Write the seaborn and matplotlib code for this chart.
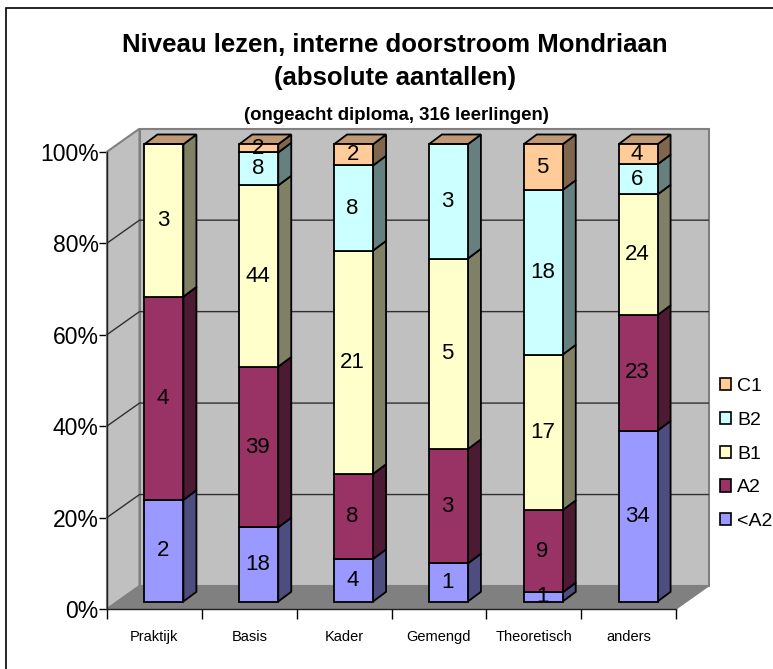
#Niveau lezen, stacked 100% bars with the old 3D look
import numpy as np
import pandas as pd
import seaborn as sns
import matplotlib.pyplot as plt
from matplotlib.patches import Patch, Polygon, Rectangle

#Data
categories = ["Praktijk", "Basis", "Kader", "Gemengd", "Theoretisch", "anders"]
levels = ["<A2", "A2", "B1", "B2", "C1"]
below_a2 = [2, 18, 4, 1, 1, 34]
a2 = [4, 39, 8, 3, 9, 23]
b1 = [3, 44, 21, 5, 17, 24]
b2 = [0, 8, 8, 3, 18, 6]
c1 = [0, 2, 2, 0, 5, 4]
y_ticks = [0, 20, 40, 60, 80, 100]

#Colours front / side / top
front = ["#9999FF", "#993366", "#FFFFCC", "#CCFFFF", "#FFCC99"]
side = ["#4D4D80", "#4D1A33", "#808066", "#668080", "#80664D"]
top_colour = "#BF9973"

df = pd.DataFrame([below_a2, a2, b1, b2, c1], index=levels, columns=categories)
pct = df / df.sum() * 100

sns.set_style("white")
plt.rcParams["font.family"] = ["Liberation Sans", "DejaVu Sans"]
plt.rcParams["text.color"] = "black"
plt.rcParams["xtick.color"] = "black"
plt.rcParams["ytick.color"] = "black"

fig = plt.figure(figsize=(7.73, 6.69), dpi=100)
W, H = 773, 669
#Axes = front plane of the floor, in pixels
x0, x1, y0, y1 = 107, 676, 609, 151.7
ax = fig.add_axes([x0 / W, (H - y0) / H, (x1 - x0) / W, (y0 - y1) / H])

#Depth of the box, in data units
cat_px = (x1 - x0) / len(categories)
pct_px = (y0 - y1) / 100
depth_x = 32.5 / cat_px
depth_y = 23 / pct_px

#Bar position inside the depth of the box
bar_in_x = 9.5 / cat_px
bar_in_y = 7.5 / pct_px
bar_dx = 13 / cat_px
bar_dy = 9.7 / pct_px

#Outer chart border, only top and left fall inside the picture
fig.add_artist(Rectangle((6 / W, -0.1), 1, 1.1 - 8 / H, transform=fig.transFigure,
                         facecolor="none", edgecolor="black", lw=1.2))

#Walls and floor
xl, xr = -0.5, 5.5
ax.add_patch(Polygon([(xl, 0), (xl + depth_x, depth_y), (xl + depth_x, 100 + depth_y), (xl, 100)],
                     facecolor="#C0C0C0", edgecolor="#808080", lw=1.5, clip_on=False, zorder=1))
ax.add_patch(Polygon([(xl + depth_x, depth_y), (xr + depth_x, depth_y), (xr + depth_x, 100 + depth_y),
                      (xl + depth_x, 100 + depth_y)],
                     facecolor="#C0C0C0", edgecolor="#808080", lw=1.5, clip_on=False, zorder=1))
ax.add_patch(Polygon([(xl, 0), (xr, 0), (xr + depth_x, depth_y), (xl + depth_x, depth_y)],
                     facecolor="#808080", edgecolor="#808080", lw=1, clip_on=False, zorder=1))

#Gridlines over wall
for t in y_ticks[1:-1]:
    ax.plot([xl, xl + depth_x, xr + depth_x], [t, t + depth_y, t + depth_y],
            color="#303030", lw=1, clip_on=False, zorder=2)

#Stacked bars through seaborn, one call per level
bottom = np.zeros(len(categories))
for i, level in enumerate(levels):
    sns.barplot(x=categories, y=pct.loc[level].values, bottom=bottom, color=front[i], saturation=1,
                width=39 / cat_px, edgecolor="black", linewidth=1.3, ax=ax, zorder=5, clip_on=False)
    bottom = bottom + pct.loc[level].values

#Move bars into the box, add side and top faces and the counts
for i, level in enumerate(levels):
    for j, bar in enumerate(ax.containers[i]):
        bar.set_x(bar.get_x() + bar_in_x)
        bar.set_y(bar.get_y() + bar_in_y)
        bx, by, bw, bh = bar.get_x(), bar.get_y(), bar.get_width(), bar.get_height()
        if bh > 0:
            ax.add_patch(Polygon([(bx + bw, by), (bx + bw + bar_dx, by + bar_dy),
                                  (bx + bw + bar_dx, by + bh + bar_dy), (bx + bw, by + bh)],
                                 facecolor=side[i], edgecolor="black", lw=1.3, clip_on=False, zorder=4))
            ax.text(bx + bw / 2 - 1 / cat_px, by + bh / 2, str(df.loc[level].iloc[j]),
                    ha="center", va="center", fontsize=16, color="black", zorder=8)
        if i == len(levels) - 1:
            top = by + bh
            ax.add_patch(Polygon([(bx, top), (bx + bw, top), (bx + bw + bar_dx, top + bar_dy),
                                  (bx + bar_dx, top + bar_dy)],
                                 facecolor=top_colour, edgecolor="black", lw=1.3, clip_on=False, zorder=4))

#Axes
ax.set_xlim(xl, xr)
ax.set_ylim(0, 100)
ax.set_xlabel("")
ax.set_ylabel("")
for s in ["top", "right"]:
    ax.spines[s].set_visible(False)
for s in ["left", "bottom"]:
    ax.spines[s].set_linewidth(1)
    ax.spines[s].set_color("#202020")
    ax.spines[s].set_zorder(3)
ax.patch.set_alpha(0)
ax.set_yticks(y_ticks)
ax.set_yticklabels([f"{t}%" for t in y_ticks], fontsize=16.5)
ax.tick_params(axis="y", length=6, width=1, pad=0, left=True)
ax.set_xticks(np.arange(-0.5, 6, 1))
ax.set_xticklabels([])
ax.tick_params(axis="x", which="major", length=7, width=1, bottom=True)
ax.set_xticks(np.arange(6), minor=True)
ax.set_xticklabels(categories, minor=True, fontsize=10.5)
ax.tick_params(axis="x", which="minor", length=0, pad=15)

#Titles
fig.text(394.5 / W, 1 - 45 / H, "Niveau lezen, interne doorstroom Mondriaan", ha="center", va="center",
         fontsize=18.5, fontweight="bold")
fig.text(394.5 / W, 1 - 78 / H, "(absolute aantallen)", ha="center", va="center",
         fontsize=18.5, fontweight="bold")
fig.text(396 / W, 1 - 115 / H, "(ongeacht diploma, 316 leerlingen)", ha="center", va="center",
         fontsize=13.4, fontweight="bold")

#Legend, top level first
handles = [Patch(facecolor=front[i], edgecolor="black", lw=1.2, label=levels[i]) for i in range(4, -1, -1)]
fig.legend(handles=handles, loc="upper left", bbox_to_anchor=(719.5 / W, 1 - 378 / H), frameon=False,
           fontsize=14, handlelength=0.6, handleheight=0.6, handletextpad=0.3,
           labelspacing=0.86, borderpad=0, borderaxespad=0)

fig.savefig("out.png", dpi=100)
